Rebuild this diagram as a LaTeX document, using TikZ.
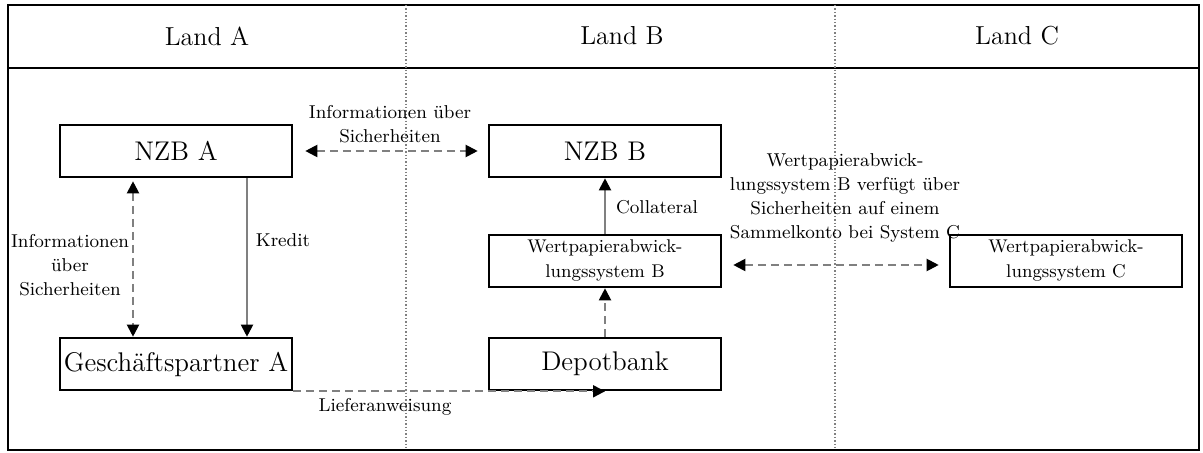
\documentclass[tikz,border=0pt]{standalone}
\usepackage{tikz}
\usetikzlibrary{calc,positioning,arrows.meta}

\begin{document}
\begin{tikzpicture}[x=0.5pt,y=-0.5pt,
		box/.style={draw=black, line width=1.3pt, minimum width=116pt, minimum height=26pt, inner sep=0pt, align=center, font=\fontsize{13.5}{16}\selectfont},
		smallbox/.style={box, font=\fontsize{9.2}{12.5}\selectfont},
		head/.style={font=\fontsize{13}{16}\selectfont},
		lbl/.style={align=center, inner sep=0pt, font=\fontsize{9.3}{12}\selectfont},
		dsh/.style={draw=gray, line width=1pt, dash pattern=on 4pt off 2.5pt},
		sol/.style={draw=gray, line width=1pt},
		tip/.style={-{Triangle[length=6pt,width=6pt,color=black]}},
		tips/.style={{Triangle[length=6pt,width=6pt,color=black]}-{Triangle[length=6pt,width=6pt,color=black]}}]
		\useasboundingbox (0,0) rectangle (1203,453);

		\draw[line width=1.3pt] (8,5) rectangle (1199,450);
		\draw[line width=1.3pt] (8,68) -- (1199,68);
		\draw[gray, densely dotted, line width=0.7pt] (406,5) -- (406,450);
		\draw[gray, densely dotted, line width=0.7pt] (835,5) -- (835,450);

		\node[head] (landa) at (207,36) {Land A};
		\node[head] (landb) at (622,36) {Land B};
		\node[head] (landc) at (1017,36) {Land C};

		\node[box] (nzba) at (176,151) {NZB A};
		\node[box] (nzbb) at (605,151) {NZB B};
		\node[smallbox] (wpsb) at (605,261) {Wertpapierabwick-\\lungssystem B};
		\node[box] (depot) at (605,364) {Depotbank};
		\node[box] (gpa) at (176,364) {Geschäftspartner A};
		\node[smallbox] (wpsc) at (1066,261) {Wertpapierabwick-\\lungssystem C};

		\draw[dsh, tips, shorten <=6pt, shorten >=5pt] (nzba.east) -- (nzbb.west);
		\node[lbl] (infotop) at (390,124) {Informationen über\\Sicherheiten};

		\draw[dsh, tips, shorten <=1.5pt] ($(nzba.south)+(-43,0)$) -- ($(gpa.north)+(-43,0)$);
		\node[lbl] (infoleft) at (70,265) {Informationen\\über\\Sicherheiten};

		\draw[sol, tip] ($(nzba.south)+(71,0)$) -- ($(gpa.north)+(71,0)$);
		\node[lbl] (kredit) at (283,240) {Kredit};

		\draw[sol, tip] (wpsb.north) -- (nzbb.south);
		\node[lbl] (coll) at (657,207) {Collateral};

		\draw[dsh, tip] (depot.north) -- (wpsb.south);

		\draw[dsh, tips, shorten <=5.5pt, shorten >=5pt] ($(wpsb.east)+(0,4)$) -- ($(wpsc.west)+(0,4)$);
		\node[lbl] (sammel) at (845,198) {Wertpapierabwick-\\lungssystem B verfügt über\\Sicherheiten auf einem\\Sammelkonto bei System C};

		\draw[dsh, tip] (gpa.south east) -- (depot.south);
		\node[lbl] (liefer) at (385,407) {Lieferanweisung};
	\end{tikzpicture}
\end{document}
